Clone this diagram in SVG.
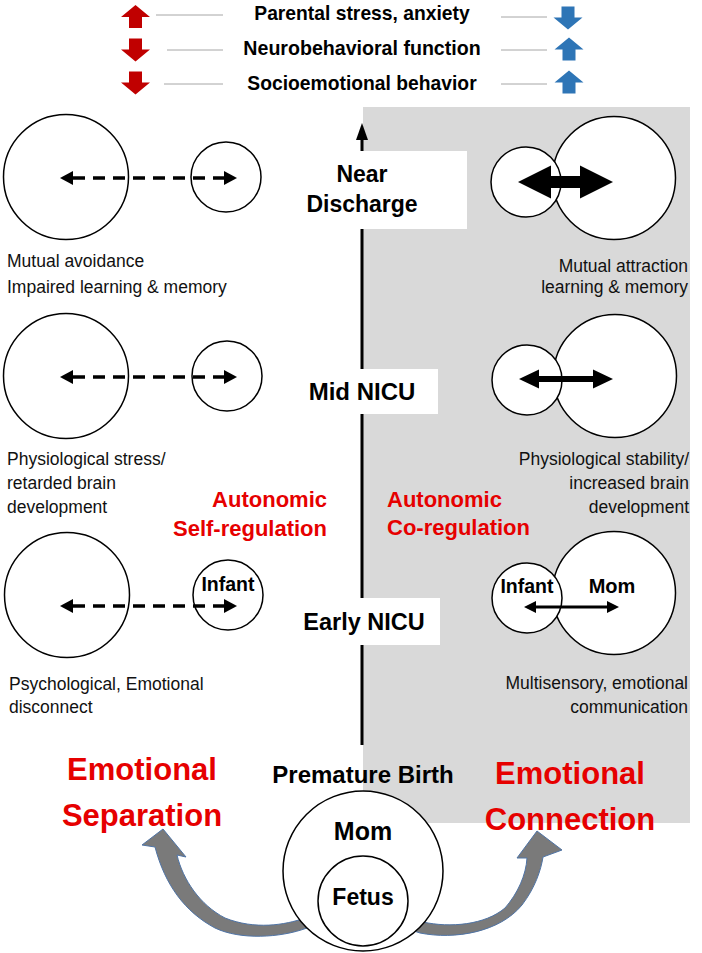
<svg xmlns="http://www.w3.org/2000/svg" width="702" height="953" viewBox="0 0 702 953">
<style>
.reg{font-family:"Liberation Sans",Arial,sans-serif;font-size:17.5px;fill:#111}
.b{font-family:"Liberation Sans",Arial,sans-serif;font-weight:bold;fill:#000}
.red{font-family:"Liberation Sans",Arial,sans-serif;font-weight:bold;fill:#E60000}
.circ{fill:#fff;stroke:#000;stroke-width:1.5}
.leg{stroke:#a6a6a6;stroke-width:1}
.up{fill:#2E75B6}
.rd{fill:#C00000}
.dash{stroke:#000;stroke-width:3.5;stroke-dasharray:12 8;fill:none}
.curve{fill:#7a7a7a;stroke:#4f74a6;stroke-width:1}
</style>
<defs>
<polygon id="arrUp" points="0,-12 14.5,0 6.5,0 6.5,11 -6.5,11 -6.5,0 -14.5,0"/>
<polygon id="arrDown" points="0,12 14.5,0 6.5,0 6.5,-11 -6.5,-11 -6.5,0 -14.5,0"/>
<linearGradient id="gr" x1="0" y1="0" x2="0" y2="1">
<stop offset="0" stop-color="#8a8a8a"/><stop offset="1" stop-color="#6a6a6a"/>
</linearGradient>
</defs>
<rect width="702" height="953" fill="#fff"/>
<rect id="bg" x="363" y="107" width="327" height="716" fill="#D9D9D9"/>

<g id="legend">
<use href="#arrUp" x="135.5" y="17" class="rd"/>
<use href="#arrDown" x="135.5" y="49.5" class="rd"/>
<use href="#arrDown" x="135.5" y="82.5" class="rd"/>
<use href="#arrDown" x="568" y="17.5" class="up"/>
<use href="#arrUp" x="569" y="49.5" class="up"/>
<use href="#arrUp" x="569" y="82.5" class="up"/>
<line x1="156" y1="15" x2="223" y2="15" class="leg"/>
<line x1="167" y1="50" x2="223" y2="50" class="leg"/>
<line x1="164" y1="84" x2="223" y2="84" class="leg"/>
<line x1="501" y1="17" x2="547" y2="17" class="leg"/>
<line x1="501" y1="50" x2="547" y2="50" class="leg"/>
<line x1="501" y1="84" x2="547" y2="84" class="leg"/>
<text x="362" y="20" class="b" font-size="19.3" text-anchor="middle">Parental stress, anxiety</text>
<text x="362" y="55" class="b" font-size="19.6" text-anchor="middle">Neurobehavioral function</text>
<text x="362" y="90" class="b" font-size="19.3" text-anchor="middle">Socioemotional behavior</text>
</g>

<g id="timeline">
<line x1="362" y1="138" x2="362" y2="745" stroke="#000" stroke-width="3"/>
<polygon points="362,123 368,140 356,140" fill="#000"/>
</g>

<g id="near-discharge">
<rect x="257" y="151" width="210" height="78" fill="#fff"/>
<text x="362" y="182" class="b" font-size="23" text-anchor="middle">Near</text>
<text x="362" y="212" class="b" font-size="23" text-anchor="middle">Discharge</text>
</g>
<g id="mid-nicu">
<rect x="286" y="369" width="152" height="45" fill="#fff"/>
<text x="362" y="400" class="b" font-size="24" text-anchor="middle">Mid NICU</text>
</g>
<g id="early-nicu">
<rect x="284" y="598" width="156" height="47" fill="#fff"/>
<text x="364" y="630" class="b" font-size="23.5" text-anchor="middle">Early NICU</text>
</g>

<g id="sep-near">
<circle cx="66" cy="177" r="62.5" class="circ"/>
<circle cx="226" cy="177" r="35" class="circ"/>
<text x="7" y="267" class="reg">Mutual avoidance</text>
<text x="7" y="293" class="reg">Impaired learning &amp; memory</text>
</g>
<g id="sep-mid">
<circle cx="66" cy="376" r="62.5" class="circ"/>
<circle cx="227" cy="376" r="35" class="circ"/>
<text x="7" y="465" class="reg">Physiological stress/</text>
<text x="7" y="489" class="reg">retarded brain</text>
<text x="7" y="513" class="reg">development</text>
</g>
<g id="sep-early">
<circle cx="67" cy="595" r="62.5" class="circ"/>
<circle cx="228" cy="595" r="35" class="circ"/>
<text x="228" y="591" class="b" font-size="19.5" text-anchor="middle">Infant</text>
<text x="9" y="690" class="reg">Psychological, Emotional</text>
<text x="9" y="713" class="reg">disconnect</text>
</g>

<g id="self-regulation">
<text x="327" y="507" class="red" font-size="22" text-anchor="end">Autonomic</text>
<text x="327" y="536" class="red" font-size="22" text-anchor="end">Self-regulation</text>
</g>
<g id="co-regulation">
<text x="387" y="507" class="red" font-size="22">Autonomic</text>
<text x="387" y="535" class="red" font-size="22">Co-regulation</text>
</g>

<g id="con-near">
<circle cx="614" cy="178" r="61.5" class="circ"/>
<circle cx="526" cy="182" r="35" class="circ"/>
<text x="688" y="272" class="reg" text-anchor="end">Mutual attraction</text>
<text x="688" y="293" class="reg" text-anchor="end">learning &amp; memory</text>
</g>
<g id="con-mid">
<circle cx="615" cy="376" r="61.5" class="circ"/>
<circle cx="527" cy="380" r="35" class="circ"/>
<text x="689" y="465" class="reg" text-anchor="end">Physiological stability/</text>
<text x="689" y="489" class="reg" text-anchor="end">increased brain</text>
<text x="689" y="513" class="reg" text-anchor="end">development</text>
</g>
<g id="con-early">
<circle cx="614" cy="593" r="61.5" class="circ"/>
<circle cx="527" cy="598" r="35" class="circ"/>
<text x="527" y="593" class="b" font-size="19.5" text-anchor="middle">Infant</text>
<text x="612" y="593" class="b" font-size="20" text-anchor="middle">Mom</text>
<text x="688" y="689" class="reg" text-anchor="end">Multisensory, emotional</text>
<text x="688" y="713" class="reg" text-anchor="end">communication</text>
</g>

<g id="connectors">
<line x1="73" y1="178" x2="225" y2="178" class="dash"/>
<polygon points="60,178 73,171 73,185" fill="#000"/>
<polygon points="237,178 224,171 224,185" fill="#000"/>
<line x1="73" y1="377" x2="225" y2="377" class="dash"/>
<polygon points="60,377 73,370 73,384" fill="#000"/>
<polygon points="237,377 224,370 224,384" fill="#000"/>
<line x1="73" y1="606" x2="225" y2="606" class="dash"/>
<polygon points="60,606 73,599 73,613" fill="#000"/>
<polygon points="237,606 224,599 224,613" fill="#000"/>
<polygon points="518,182 551,165.5 551,176 580,176 580,165.5 613,182 580,198.5 580,188 551,188 551,198.5" fill="#000"/>
<polygon points="519,379 539,369.5 539,376 593,376 593,369.5 613,379 593,388.5 593,382 539,382 539,388.5" fill="#000"/>
<line x1="533" y1="607" x2="610" y2="607" stroke="#000" stroke-width="3"/>
<polygon points="524,607 536,601 536,613" fill="#000"/>
<polygon points="619,607 607,601 607,613" fill="#000"/>
<path class="curve" fill="url(#gr)" d="M 320,926 L 307,928 C 280,938 240,940 215,928 C 185,912 165,885 155,847 L 142,845 L 163,829 L 186,857 L 177,855 C 183,880 200,905 225,918 C 255,930 285,925 305,918 L 320,915 Z"/>
<path class="curve" fill="url(#gr)" d="M 405,928 L 420,933 C 455,940 500,932 522,905 C 535,888 541,870 543,857 L 562,850 L 537,831 L 517,858 L 527,858 C 526,875 518,893 505,908 C 485,925 450,928 423,922 L 405,919 Z"/>
</g>

<g id="titles">
<text x="142" y="780" class="red" font-size="31" text-anchor="middle">Emotional</text>
<text x="142" y="826" class="red" font-size="31" text-anchor="middle">Separation</text>
<text x="570" y="784" class="red" font-size="31" text-anchor="middle">Emotional</text>
<text x="570" y="830" class="red" font-size="31" text-anchor="middle">Connection</text>
<text x="363" y="783" class="b" font-size="24" text-anchor="middle">Premature Birth</text>
</g>

<g id="birth">
<circle cx="363" cy="871" r="80" class="circ"/>
<circle cx="363" cy="901" r="45" class="circ"/>
<text x="363" y="840" class="b" font-size="25" text-anchor="middle">Mom</text>
<text x="363" y="905" class="b" font-size="23" text-anchor="middle">Fetus</text>
</g>
</svg>
